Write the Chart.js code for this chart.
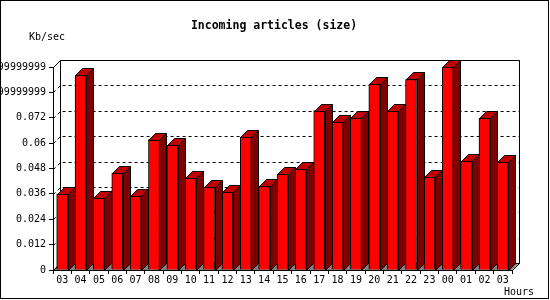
<!DOCTYPE html>
<html>
<head>
<meta charset="utf-8">
<script src="https://cdn.jsdelivr.net/npm/chart.js@4"></script>
<style>
  html, body { margin: 0; padding: 0; background: #fff; }
  canvas { display: block; }
</style>
</head>
<body>
<canvas id="chart" width="550" height="300"></canvas>
<script>
// hours on the x axis
const hours = ['03', '04', '05', '06', '07', '08', '09', '10', '11', '12', '13', '14', '15',
               '16', '17', '18', '19', '20', '21', '22', '23', '00', '01', '02', '03'];
// incoming articles in Kb/sec
const kbPerSec = [0.0360, 0.0920, 0.0340, 0.0458, 0.0348, 0.0617, 0.0589, 0.0433, 0.0391,
                  0.0367, 0.0627, 0.0395, 0.0452, 0.0480, 0.0754, 0.0698, 0.0717, 0.0879,
                  0.0754, 0.0901, 0.0439, 0.0958, 0.0514, 0.0717, 0.0509];
// y tick labels as printed by the original tool
const yTickLabels = ['0', '0.012', '0.024', '0.036', '0.048', '0.06', '0.072',
                     '0.0839999999999999', '0.0959999999999999'];
const yStep = 0.012;

const MONO = '"DejaVu Sans Mono", "Liberation Mono", monospace';
const DEPTH = 7;

// back wall, floor and dashed gridlines behind the bars
const backWall = {
    id: 'backWall',
    beforeDatasetsDraw(chart) {
        const {ctx, chartArea: a, scales} = chart;
        const d = DEPTH;
        const L = Math.round(a.left), R = Math.round(a.right);
        const T = Math.round(a.top), B = Math.round(a.bottom);
        ctx.save();
        ctx.lineWidth = 1;
        ctx.strokeStyle = '#000';

        // floor
        ctx.fillStyle = '#808080';
        ctx.beginPath();
        ctx.moveTo(L, B);
        ctx.lineTo(L + d, B - d);
        ctx.lineTo(R + d, B - d);
        ctx.lineTo(R, B);
        ctx.closePath();
        ctx.fill();

        // gridlines
        ctx.setLineDash([3, 3]);
        scales.y.ticks.forEach(t => {
            if (t.value === 0) return;
            const y = Math.round(scales.y.getPixelForValue(t.value));
            ctx.beginPath();
            ctx.moveTo(L + 0.5, y + 0.5);
            ctx.lineTo(L + d + 0.5, y - d + 0.5);
            ctx.lineTo(R + d + 0.5, y - d + 0.5);
            ctx.stroke();
        });
        ctx.setLineDash([]);

        // wall outline
        ctx.beginPath();
        ctx.moveTo(L + 0.5, T + 0.5);
        ctx.lineTo(L + d + 0.5, T - d + 0.5);
        ctx.lineTo(R + d + 0.5, T - d + 0.5);
        ctx.lineTo(R + d + 0.5, B - d + 0.5);
        ctx.lineTo(R + 0.5, B + 0.5);
        ctx.moveTo(L + 0.5, B + 0.5);
        ctx.lineTo(L + d + 0.5, B - d + 0.5);
        ctx.lineTo(L + d + 0.5, T - d + 0.5);
        ctx.moveTo(L + d + 0.5, B - d + 0.5);
        ctx.lineTo(R + d + 0.5, B - d + 0.5);
        ctx.stroke();
        ctx.restore();
    }
};

// side and top faces of every bar
const bars3d = {
    id: 'bars3d',
    afterDatasetsDraw(chart) {
        const {ctx} = chart;
        const d = DEPTH;
        ctx.save();
        ctx.lineWidth = 1;
        ctx.strokeStyle = '#000';
        chart.getDatasetMeta(0).data.forEach(bar => {
            const {x, y, base, width} = bar.getProps(['x', 'y', 'base', 'width'], true);
            const l = Math.round(x - width / 2), r = Math.round(x + width / 2);
            const t = Math.round(y), b = Math.round(base);

            ctx.fillStyle = '#800000';
            ctx.beginPath();
            ctx.moveTo(r + 0.5, t + 0.5);
            ctx.lineTo(r + d + 0.5, t - d + 0.5);
            ctx.lineTo(r + d + 0.5, b - d + 0.5);
            ctx.lineTo(r + 0.5, b + 0.5);
            ctx.closePath();
            ctx.fill();
            ctx.stroke();

            ctx.fillStyle = '#c00000';
            ctx.beginPath();
            ctx.moveTo(l + 0.5, t + 0.5);
            ctx.lineTo(l + d + 0.5, t - d + 0.5);
            ctx.lineTo(r + d + 0.5, t - d + 0.5);
            ctx.lineTo(r + 0.5, t + 0.5);
            ctx.closePath();
            ctx.fill();
            ctx.stroke();
        });
        ctx.restore();
    }
};

// title, axis captions and the frame round the picture
const captions = {
    id: 'captions',
    afterDraw(chart) {
        const {ctx} = chart;
        ctx.save();
        ctx.fillStyle = '#000';
        ctx.textBaseline = 'middle';
        ctx.textAlign = 'center';
        ctx.font = 'bold 11.5px ' + MONO;
        ctx.fillText('Incoming articles (size)', 274, 26);
        ctx.textAlign = 'left';
        ctx.font = '10px ' + MONO;
        ctx.fillText('Kb/sec', 29, 37);
        ctx.fillText('Hours', 504, 292);
        ctx.strokeStyle = '#000';
        ctx.lineWidth = 1;
        ctx.strokeRect(0.5, 0.5, 548, 298);
        ctx.restore();
    }
};

new Chart(document.getElementById('chart'), {
    type: 'bar',
    data: {
        labels: hours,
        datasets: [{
            data: kbPerSec,
            backgroundColor: '#ff0000',
            borderColor: '#000',
            borderWidth: 1,
            barThickness: 11
        }]
    },
    options: {
        responsive: false,
        animation: false,
        devicePixelRatio: 1,
        layout: {padding: {left: 0, right: 38, top: 67, bottom: 0}},
        plugins: {
            legend: {display: false},
            tooltip: {enabled: false},
            title: {display: false}
        },
        scales: {
            x: {
                grid: {drawOnChartArea: false, color: '#000', tickLength: 4},
                border: {color: '#000'},
                ticks: {color: '#000', font: {family: MONO, size: 10}, padding: 0,
                        maxRotation: 0, autoSkip: false},
                afterFit: s => { s.height = 30; }
            },
            y: {
                min: 0,
                max: 0.096,
                grid: {drawOnChartArea: false, color: '#000', tickLength: 4},
                border: {color: '#000'},
                ticks: {
                    stepSize: yStep,
                    color: '#000',
                    font: {family: MONO, size: 10},
                    padding: 3,
                    callback: v => yTickLabels[Math.round(v / yStep)]
                },
                afterFit: s => { s.width = 53; }
            }
        }
    },
    plugins: [backWall, bars3d, captions]
});
</script>
</body>
</html>
